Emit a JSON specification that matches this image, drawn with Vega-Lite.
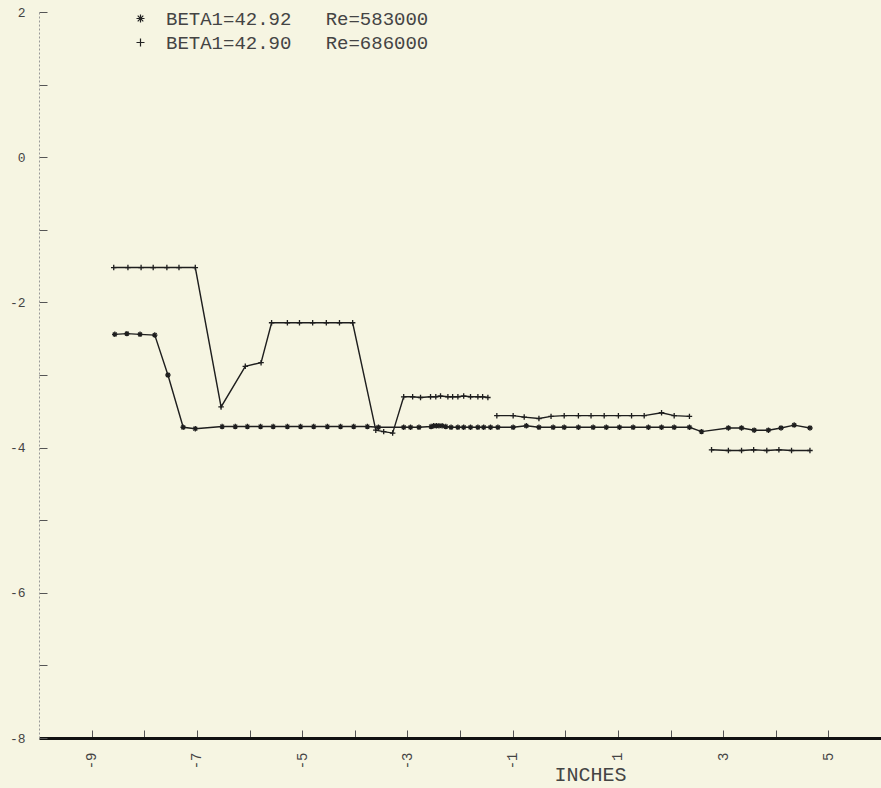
{
  "$schema": "https://vega.github.io/schema/vega-lite/v6.json",
  "width": 842,
  "height": 726,
  "autosize": {"type": "none"},
  "padding": {"left": 39, "top": 12, "right": 0, "bottom": 50},
  "background": "#f6f5e2",
  "config": {"view": {"stroke": null}, "font": "Liberation Mono"},
  "data": {"values": [
    {"x": -8.58, "y": -1.52, "s": "686000", "seg": "A1"},
    {"x": -8.31, "y": -1.52, "s": "686000", "seg": "A1"},
    {"x": -8.06, "y": -1.52, "s": "686000", "seg": "A1"},
    {"x": -7.83, "y": -1.52, "s": "686000", "seg": "A1"},
    {"x": -7.57, "y": -1.52, "s": "686000", "seg": "A1"},
    {"x": -7.34, "y": -1.52, "s": "686000", "seg": "A1"},
    {"x": -7.03, "y": -1.52, "s": "686000", "seg": "A1"},
    {"x": -6.54, "y": -3.44, "s": "686000", "seg": "A1"},
    {"x": -6.08, "y": -2.88, "s": "686000", "seg": "A1"},
    {"x": -5.78, "y": -2.83, "s": "686000", "seg": "A1"},
    {"x": -5.58, "y": -2.28, "s": "686000", "seg": "A1"},
    {"x": -5.28, "y": -2.28, "s": "686000", "seg": "A1"},
    {"x": -5.05, "y": -2.28, "s": "686000", "seg": "A1"},
    {"x": -4.80, "y": -2.28, "s": "686000", "seg": "A1"},
    {"x": -4.54, "y": -2.28, "s": "686000", "seg": "A1"},
    {"x": -4.29, "y": -2.28, "s": "686000", "seg": "A1"},
    {"x": -4.04, "y": -2.28, "s": "686000", "seg": "A1"},
    {"x": -3.60, "y": -3.76, "s": "686000", "seg": "A1"},
    {"x": -3.45, "y": -3.78, "s": "686000", "seg": "A1"},
    {"x": -3.28, "y": -3.80, "s": "686000", "seg": "A1"},
    {"x": -3.07, "y": -3.30, "s": "686000", "seg": "A1"},
    {"x": -2.90, "y": -3.30, "s": "686000", "seg": "A1"},
    {"x": -2.75, "y": -3.31, "s": "686000", "seg": "A1"},
    {"x": -2.56, "y": -3.30, "s": "686000", "seg": "A1"},
    {"x": -2.46, "y": -3.30, "s": "686000", "seg": "A1"},
    {"x": -2.37, "y": -3.29, "s": "686000", "seg": "A1"},
    {"x": -2.23, "y": -3.30, "s": "686000", "seg": "A1"},
    {"x": -2.14, "y": -3.30, "s": "686000", "seg": "A1"},
    {"x": -2.04, "y": -3.30, "s": "686000", "seg": "A1"},
    {"x": -1.93, "y": -3.29, "s": "686000", "seg": "A1"},
    {"x": -1.80, "y": -3.30, "s": "686000", "seg": "A1"},
    {"x": -1.66, "y": -3.30, "s": "686000", "seg": "A1"},
    {"x": -1.57, "y": -3.30, "s": "686000", "seg": "A1"},
    {"x": -1.47, "y": -3.31, "s": "686000", "seg": "A1"},
    {"x": -1.30, "y": -3.56, "s": "686000", "seg": "A2"},
    {"x": -0.99, "y": -3.56, "s": "686000", "seg": "A2"},
    {"x": -0.78, "y": -3.58, "s": "686000", "seg": "A2"},
    {"x": -0.50, "y": -3.60, "s": "686000", "seg": "A2"},
    {"x": -0.27, "y": -3.57, "s": "686000", "seg": "A2"},
    {"x": -0.02, "y": -3.56, "s": "686000", "seg": "A2"},
    {"x": 0.25, "y": -3.56, "s": "686000", "seg": "A2"},
    {"x": 0.49, "y": -3.56, "s": "686000", "seg": "A2"},
    {"x": 0.74, "y": -3.56, "s": "686000", "seg": "A2"},
    {"x": 1.01, "y": -3.56, "s": "686000", "seg": "A2"},
    {"x": 1.26, "y": -3.56, "s": "686000", "seg": "A2"},
    {"x": 1.50, "y": -3.56, "s": "686000", "seg": "A2"},
    {"x": 1.83, "y": -3.52, "s": "686000", "seg": "A2"},
    {"x": 2.07, "y": -3.56, "s": "686000", "seg": "A2"},
    {"x": 2.36, "y": -3.57, "s": "686000", "seg": "A2"},
    {"x": 2.78, "y": -4.03, "s": "686000", "seg": "A3"},
    {"x": 3.10, "y": -4.04, "s": "686000", "seg": "A3"},
    {"x": 3.35, "y": -4.04, "s": "686000", "seg": "A3"},
    {"x": 3.58, "y": -4.03, "s": "686000", "seg": "A3"},
    {"x": 3.83, "y": -4.04, "s": "686000", "seg": "A3"},
    {"x": 4.06, "y": -4.03, "s": "686000", "seg": "A3"},
    {"x": 4.30, "y": -4.04, "s": "686000", "seg": "A3"},
    {"x": 4.65, "y": -4.04, "s": "686000", "seg": "A3"},
    {"x": -8.56, "y": -2.44, "s": "583000", "seg": "B1"},
    {"x": -8.33, "y": -2.43, "s": "583000", "seg": "B1"},
    {"x": -8.08, "y": -2.44, "s": "583000", "seg": "B1"},
    {"x": -7.80, "y": -2.45, "s": "583000", "seg": "B1"},
    {"x": -7.55, "y": -3.00, "s": "583000", "seg": "B1"},
    {"x": -7.26, "y": -3.72, "s": "583000", "seg": "B1"},
    {"x": -7.03, "y": -3.74, "s": "583000", "seg": "B1"},
    {"x": -6.52, "y": -3.71, "s": "583000", "seg": "B1"},
    {"x": -6.27, "y": -3.71, "s": "583000", "seg": "B1"},
    {"x": -6.04, "y": -3.71, "s": "583000", "seg": "B1"},
    {"x": -5.79, "y": -3.71, "s": "583000", "seg": "B1"},
    {"x": -5.55, "y": -3.71, "s": "583000", "seg": "B1"},
    {"x": -5.28, "y": -3.71, "s": "583000", "seg": "B1"},
    {"x": -5.03, "y": -3.71, "s": "583000", "seg": "B1"},
    {"x": -4.78, "y": -3.71, "s": "583000", "seg": "B1"},
    {"x": -4.52, "y": -3.71, "s": "583000", "seg": "B1"},
    {"x": -4.27, "y": -3.71, "s": "583000", "seg": "B1"},
    {"x": -4.02, "y": -3.71, "s": "583000", "seg": "B1"},
    {"x": -3.76, "y": -3.71, "s": "583000", "seg": "B1"},
    {"x": -3.55, "y": -3.72, "s": "583000", "seg": "B1"},
    {"x": -3.07, "y": -3.72, "s": "583000", "seg": "B1"},
    {"x": -2.94, "y": -3.72, "s": "583000", "seg": "B1"},
    {"x": -2.78, "y": -3.72, "s": "583000", "seg": "B1"},
    {"x": -2.55, "y": -3.71, "s": "583000", "seg": "B1"},
    {"x": -2.50, "y": -3.70, "s": "583000", "seg": "B1"},
    {"x": -2.45, "y": -3.70, "s": "583000", "seg": "B1"},
    {"x": -2.40, "y": -3.70, "s": "583000", "seg": "B1"},
    {"x": -2.34, "y": -3.70, "s": "583000", "seg": "B1"},
    {"x": -2.27, "y": -3.71, "s": "583000", "seg": "B1"},
    {"x": -2.17, "y": -3.72, "s": "583000", "seg": "B1"},
    {"x": -2.04, "y": -3.72, "s": "583000", "seg": "B1"},
    {"x": -1.93, "y": -3.72, "s": "583000", "seg": "B1"},
    {"x": -1.80, "y": -3.72, "s": "583000", "seg": "B1"},
    {"x": -1.66, "y": -3.72, "s": "583000", "seg": "B1"},
    {"x": -1.55, "y": -3.72, "s": "583000", "seg": "B1"},
    {"x": -1.42, "y": -3.72, "s": "583000", "seg": "B1"},
    {"x": -1.28, "y": -3.72, "s": "583000", "seg": "B1"},
    {"x": -0.99, "y": -3.72, "s": "583000", "seg": "B1"},
    {"x": -0.74, "y": -3.70, "s": "583000", "seg": "B1"},
    {"x": -0.50, "y": -3.72, "s": "583000", "seg": "B1"},
    {"x": -0.23, "y": -3.72, "s": "583000", "seg": "B1"},
    {"x": -0.02, "y": -3.72, "s": "583000", "seg": "B1"},
    {"x": 0.25, "y": -3.72, "s": "583000", "seg": "B1"},
    {"x": 0.53, "y": -3.72, "s": "583000", "seg": "B1"},
    {"x": 0.78, "y": -3.72, "s": "583000", "seg": "B1"},
    {"x": 1.03, "y": -3.72, "s": "583000", "seg": "B1"},
    {"x": 1.29, "y": -3.72, "s": "583000", "seg": "B1"},
    {"x": 1.58, "y": -3.72, "s": "583000", "seg": "B1"},
    {"x": 1.83, "y": -3.72, "s": "583000", "seg": "B1"},
    {"x": 2.07, "y": -3.72, "s": "583000", "seg": "B1"},
    {"x": 2.36, "y": -3.72, "s": "583000", "seg": "B1"},
    {"x": 2.59, "y": -3.78, "s": "583000", "seg": "B1"},
    {"x": 3.10, "y": -3.73, "s": "583000", "seg": "B1"},
    {"x": 3.35, "y": -3.73, "s": "583000", "seg": "B1"},
    {"x": 3.59, "y": -3.76, "s": "583000", "seg": "B1"},
    {"x": 3.86, "y": -3.76, "s": "583000", "seg": "B1"},
    {"x": 4.10, "y": -3.73, "s": "583000", "seg": "B1"},
    {"x": 4.35, "y": -3.69, "s": "583000", "seg": "B1"},
    {"x": 4.65, "y": -3.73, "s": "583000", "seg": "B1"}
  ]},
  "encoding": {
    "x": {
      "field": "x", "type": "quantitative",
      "scale": {"domain": [-10, 6], "nice": false, "zero": false},
      "axis": {
        "values": [-9, -8, -7, -6, -5, -4, -3, -2, -1, 0, 1, 2, 3, 4, 5],
        "labelExpr": "datum.value % 2 != 0 ? '' + datum.value : ''",
        "labelAngle": 270,
        "labelFont": "Liberation Mono",
        "labelFontSize": 14,
        "labelColor": "#444",
        "labelPadding": 22,
        "labelFlush": false,
        "labelOverlap": false,
        "tickSize": -8,
        "tickColor": "#555",
        "tickWidth": 1,
        "domainColor": "#111",
        "domainWidth": 3,
        "grid": false,
        "title": "INCHES",
        "titleFont": "Liberation Mono",
        "titleFontSize": 20,
        "titleFontWeight": "normal",
        "titleColor": "#444",
        "titleX": 551,
        "titleY": 36,
        "titleBaseline": "middle",
        "titleAlign": "center"
      }
    },
    "y": {
      "field": "y", "type": "quantitative",
      "scale": {"domain": [-8, 2], "nice": false, "zero": false},
      "axis": {
        "values": [-8, -7, -6, -5, -4, -3, -2, -1, 0, 1, 2],
        "labelExpr": "datum.value % 2 == 0 ? '' + datum.value : ''",
        "labelFont": "Liberation Mono",
        "labelFontSize": 13,
        "labelColor": "#444",
        "labelPadding": 22,
        "labelFlush": false,
        "labelOverlap": false,
        "tickSize": -8,
        "tickColor": "#555",
        "tickWidth": 1,
        "domainColor": "#999",
        "domainDash": [2, 2],
        "domainWidth": 1,
        "grid": false,
        "title": null
      }
    }
  },
  "layer": [
    {
      "mark": {"type": "line", "color": "#1e1e1e", "strokeWidth": 1.4},
      "encoding": {"detail": {"field": "seg", "type": "nominal"}}
    },
    {
      "mark": {"type": "point", "filled": false, "color": "#1e1e1e", "strokeWidth": 1.3, "size": 30, "opacity": 1},
      "encoding": {
        "shape": {
          "field": "s", "type": "nominal",
          "scale": {
            "domain": ["583000", "686000"],
            "range": ["M-1,0H1M0,-1V1M-0.7,-0.7L0.7,0.7M-0.7,0.7L0.7,-0.7", "M-1,0H1M0,-1V1"]
          },
          "legend": {
            "orient": "none",
            "legendX": 92,
            "legendY": -3,
            "title": null,
            "padding": 0,
            "labelFont": "Liberation Mono",
            "labelFontSize": 19,
            "labelColor": "#444",
            "labelLimit": 0,
            "labelOffset": 16,
            "rowPadding": 4,
            "symbolSize": 64,
            "symbolStrokeColor": "#222",
            "symbolStrokeWidth": 1.2,
            "symbolFillColor": "transparent",
            "labelExpr": "datum.value == '583000' ? 'BETA1=42.92\u00a0\u00a0\u00a0Re=583000' : 'BETA1=42.90\u00a0\u00a0\u00a0Re=686000'"
          }
        }
      }
    }
  ]
}
